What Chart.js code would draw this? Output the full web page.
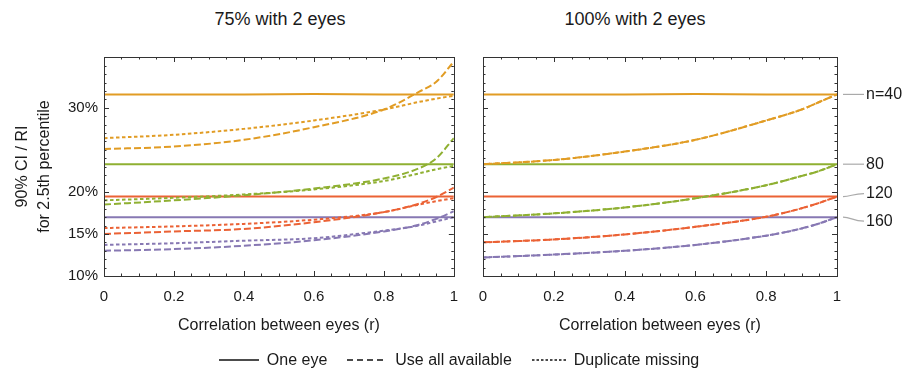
<!DOCTYPE html>
<html>
<head>
<meta charset="utf-8">
<script src="https://cdn.jsdelivr.net/npm/chart.js@4"></script>
<style>
  body { margin: 0; width: 904px; height: 370px; position: relative; background: #fff; overflow: hidden;
         font-family: "Liberation Sans", Arial, sans-serif; color: #1a1a1a; }
  #leftWrap { position: absolute; left: 0; top: 0; width: 470px; height: 370px; }
  #rightWrap { position: absolute; left: 460px; top: 0; width: 444px; height: 370px; }
  .title { position: absolute; top: 9px; font-size: 18px; transform: translateX(-50%); white-space: nowrap; }
  #legend { position: absolute; top: 351px; left: 0; width: 918px; display: flex; justify-content: center;
            align-items: center; font-size: 16px; line-height: 18px; white-space: nowrap; }
  #legend svg { margin-right: 8px; }
  #legend span { margin-right: 20px; }
</style>
</head>
<body>
<div class="title" style="left:280px">75% with 2 eyes</div>
<div class="title" style="left:635px">100% with 2 eyes</div>
<div id="leftWrap"><canvas id="leftChart"></canvas></div>
<div id="rightWrap"><canvas id="rightChart"></canvas></div>

<div id="legend">
  <svg width="40" height="4"><line x1="0" y1="2" x2="40" y2="2" stroke="#111" stroke-width="1.5"/></svg><span>One eye</span>
  <svg width="40" height="4"><line x1="0" y1="2" x2="40" y2="2" stroke="#111" stroke-width="1.5" stroke-dasharray="6,4"/></svg><span>Use all available</span>
  <svg width="34" height="4"><line x1="0" y1="2" x2="34" y2="2" stroke="#111" stroke-width="1.5" stroke-dasharray="2.5,2"/></svg><span style="margin-right:0">Duplicate missing</span>
</div>

<script>
// correlation between eyes
const r = [0, 0.2, 0.4, 0.6, 0.8, 0.9, 0.95, 1];

// one eye, same in both panels
const oneEye40  = [31.6, 31.6, 31.6, 31.65, 31.6, 31.6, 31.6, 31.6];
const oneEye80  = [23.3, 23.3, 23.3, 23.3, 23.3, 23.3, 23.3, 23.3];
const oneEye120 = [19.45, 19.45, 19.45, 19.45, 19.45, 19.45, 19.45, 19.45];
const oneEye160 = [17.0, 17.0, 17.0, 17.0, 17.0, 17.0, 17.0, 17.0];

// 75% with 2 eyes
const useAll75_40  = [25.1, 25.4, 26.2, 27.7, 29.8, 31.9, 33.1, 35.5];
const dup75_40     = [26.4, 26.8, 27.5, 28.5, 29.8, 30.7, 31.1, 31.45];
const useAll75_80  = [18.5, 19.0, 19.6, 20.4, 21.6, 22.8, 24.0, 26.4];
const dup75_80     = [19.0, 19.3, 19.7, 20.3, 21.3, 22.2, 22.7, 23.1];
const useAll75_120 = [15.0, 15.3, 15.6, 16.4, 17.6, 18.6, 19.4, 20.5];
const dup75_120    = [15.7, 15.9, 16.2, 16.7, 17.6, 18.5, 18.9, 19.25];
const useAll75_160 = [13.0, 13.2, 13.6, 14.25, 15.3, 16.1, 16.8, 17.7];
const dup75_160    = [13.7, 13.9, 14.2, 14.5, 15.4, 16.0, 16.5, 17.0];

// 100% with 2 eyes (use all available and duplicate missing coincide)
const both100_40  = [23.3, 23.8, 24.8, 26.2, 28.5, 29.8, 30.7, 31.6];
const both100_80  = [17.0, 17.45, 18.15, 19.25, 20.8, 21.9, 22.5, 23.3];
const both100_120 = [14.0, 14.35, 14.95, 15.85, 17.05, 18.05, 18.7, 19.45];
const both100_160 = [12.2, 12.55, 13.0, 13.7, 14.8, 15.65, 16.25, 17.0];

const yTicks = [10, 15, 20, 30];
const xTicks = [0, 0.2, 0.4, 0.6, 0.8, 1];
const nLabels = ['n=40', '80', '120', '160'];

const colors = ['#E19C24', '#8FB032', '#EB6235', '#8778B3'];

Chart.defaults.font.family = '"Liberation Sans", Arial, sans-serif';
Chart.defaults.color = '#1a1a1a';

function pts(vals) {
    return vals.map((v, i) => ({ x: r[i], y: v }));
}

function line(vals, color, dash) {
    return {
        data: pts(vals),
        borderColor: color,
        borderWidth: 2,
        borderDash: dash,
        pointRadius: 0,
        fill: false,
        cubicInterpolationMode: 'monotone'
    };
}

const DASH = [7, 3];
const DOT = [3.5, 2.5];

let leftSets = [
    line(useAll75_40, colors[0], DASH), line(dup75_40, colors[0], DOT), line(oneEye40, colors[0], []),
    line(useAll75_80, colors[1], DASH), line(dup75_80, colors[1], DOT), line(oneEye80, colors[1], []),
    line(useAll75_120, colors[2], DASH), line(dup75_120, colors[2], DOT), line(oneEye120, colors[2], []),
    line(useAll75_160, colors[3], DASH), line(dup75_160, colors[3], DOT), line(oneEye160, colors[3], [])
];

let rightSets = [
    line(both100_40, colors[0], DASH), line(both100_40, colors[0], DOT), line(oneEye40, colors[0], []),
    line(both100_80, colors[1], DASH), line(both100_80, colors[1], DOT), line(oneEye80, colors[1], []),
    line(both100_120, colors[2], DASH), line(both100_120, colors[2], DOT), line(oneEye120, colors[2], []),
    line(both100_160, colors[3], DASH), line(both100_160, colors[3], DOT), line(oneEye160, colors[3], [])
];

// frame with inward ticks on all four sides
const frameTicks = {
    id: 'frameTicks',
    afterDatasetsDraw(chart) {
        const { ctx, chartArea: a, scales: { x, y } } = chart;
        ctx.save();
        ctx.strokeStyle = '#333';
        ctx.lineWidth = 1;
        ctx.beginPath();
        for (let i = 0; i <= 20; i++) {
            let v = i * 0.05;
            let len = (i % 4 === 0) ? 5 : 2.5;
            let px = Math.round(x.getPixelForValue(v)) + 0.5;
            ctx.moveTo(px, a.bottom); ctx.lineTo(px, a.bottom - len);
            ctx.moveTo(px, a.top); ctx.lineTo(px, a.top + len);
        }
        for (let v = 10; v <= 36; v++) {
            let len = yTicks.includes(v) ? 5 : 2.5;
            let py = Math.round(y.getPixelForValue(v)) + 0.5;
            ctx.moveTo(a.left, py); ctx.lineTo(a.left + len, py);
            ctx.moveTo(a.right, py); ctx.lineTo(a.right - len, py);
        }
        ctx.stroke();
        ctx.strokeRect(Math.round(a.left) + 0.5, Math.round(a.top) + 0.5,
            Math.round(a.right - a.left), Math.round(a.bottom - a.top));
        ctx.restore();
    }
};

// sample size labels to the right of the second panel
const sizeLabels = {
    id: 'sizeLabels',
    afterDraw(chart) {
        const { ctx, chartArea: a, scales: { y } } = chart;
        const ends = [oneEye40, oneEye80, oneEye120, oneEye160].map(s => s[s.length - 1]);
        const shift = [0, 0, -3, 4];
        ctx.save();
        ctx.strokeStyle = '#aaa';
        ctx.lineWidth = 1.2;
        ctx.fillStyle = '#1a1a1a';
        ctx.font = '16px "Liberation Sans", Arial, sans-serif';
        ctx.textBaseline = 'middle';
        ends.forEach((v, i) => {
            let y0 = y.getPixelForValue(v);
            let y1 = y0 + shift[i];
            ctx.beginPath();
            ctx.moveTo(a.right + 6, y0);
            ctx.bezierCurveTo(a.right + 14, y0, a.right + 16, y1, a.right + 27, y1);
            ctx.stroke();
            ctx.fillText(nLabels[i], a.right + 29, y1);
        });
        ctx.restore();
    }
};

function xScale() {
    return {
        type: 'linear', min: 0, max: 1,
        afterBuildTicks: s => { s.ticks = xTicks.map(v => ({ value: v })); },
        grid: { display: false, drawTicks: false },
        border: { display: false },
        ticks: { padding: 12, font: { size: 15 }, maxRotation: 0, callback: v => String(v) },
        title: { display: true, text: 'Correlation between eyes (r)', font: { size: 16 }, padding: { top: 0, bottom: 35 } },
        afterFit: s => { s.height = 94; }
    };
}

new Chart(document.getElementById('leftChart'), {
    type: 'line',
    data: { datasets: leftSets },
    options: {
        responsive: true, maintainAspectRatio: false, animation: false,
        layout: { padding: { top: 57, right: 13, left: 0, bottom: 0 } },
        plugins: { legend: { display: false }, tooltip: { enabled: false } },
        scales: {
            x: xScale(),
            y: {
                min: 10, max: 36.05,
                afterBuildTicks: s => { s.ticks = yTicks.map(v => ({ value: v })); },
                grid: { display: false, drawTicks: false },
                border: { display: false },
                ticks: { padding: 6, font: { size: 15 }, callback: v => v + '%' },
                title: { display: true, text: ['90% CI / RI', 'for 2.5th percentile'], font: { size: 16, lineHeight: 1.4 }, padding: { top: 11, bottom: 0 } },
                afterFit: s => { s.width = 104; }
            }
        }
    },
    plugins: [frameTicks]
});

new Chart(document.getElementById('rightChart'), {
    type: 'line',
    data: { datasets: rightSets },
    options: {
        responsive: true, maintainAspectRatio: false, animation: false,
        layout: { padding: { top: 57, right: 67, left: 23, bottom: 0 } },
        plugins: { legend: { display: false }, tooltip: { enabled: false } },
        scales: {
            x: xScale(),
            y: { display: false, min: 10, max: 36.05 }
        }
    },
    plugins: [frameTicks, sizeLabels]
});
</script>
</body>
</html>
